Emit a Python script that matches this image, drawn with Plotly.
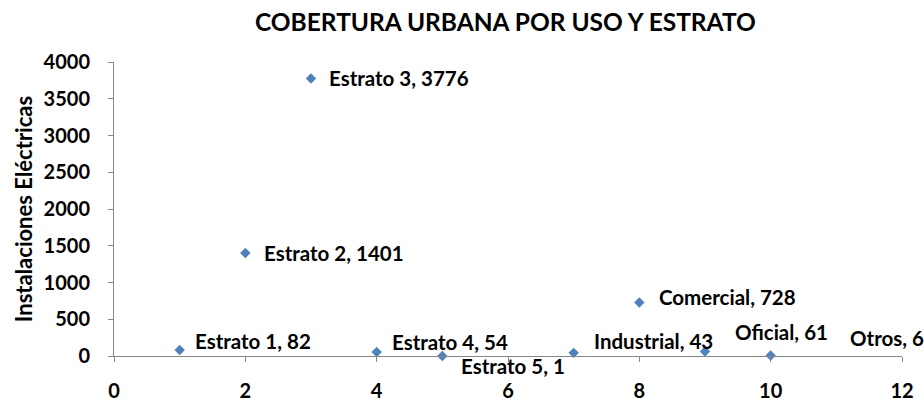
import plotly.graph_objects as go

categories = ["Estrato 1", "Estrato 2", "Estrato 3", "Estrato 4", "Estrato 5",
              "Industrial", "Comercial", "Oficial", "Otros"]
x_vals = [1, 2, 3, 4, 5, 7, 8, 9, 10]
values = [82, 1401, 3776, 54, 1, 43, 728, 61, 6]
x_ticks = [0, 2, 4, 6, 8, 10, 12]
y_ticks = [0, 500, 1000, 1500, 2000, 2500, 3000, 3500, 4000]

# label offsets in pixels (left edge of text, vertical shift up)
label_dx = [13, 17, 16, 13, 17, 18, 18, 28, 77]
label_dy = [9, 0, 0, 10, -10, 12, 5, 20, 18]

FONT = "Lato"
fig = go.Figure()
fig.add_trace(go.Scatter(
    x=x_vals, y=values, mode="markers",
    marker=dict(symbol="diamond", size=8, color="#4F81BD"),
    cliponaxis=False, showlegend=False,
))

for c, xv, v, dx, dy in zip(categories, x_vals, values, label_dx, label_dy):
    fig.add_annotation(
        x=xv, y=v, text=f"{c}, {v}", showarrow=False,
        xanchor="left", yanchor="middle", xshift=dx, yshift=dy,
        font=dict(family=FONT, size=20.5, color="#000000", weight="bold"),
    )

fig.update_layout(
    width=924, height=402,
    margin=dict(l=114, r=22, t=62, b=46, autoexpand=False),
    paper_bgcolor="white", plot_bgcolor="white",
    title=dict(text="COBERTURA URBANA POR USO Y ESTRATO", x=0.547, xanchor="center",
               y=0.945, yanchor="middle", automargin=False,
               font=dict(family=FONT, size=24.5, color="#000000", weight="bold")),
    xaxis=dict(range=[0, 12], tickvals=x_ticks, showgrid=False, zeroline=False,
               automargin=False,
               showline=True, linecolor="#868686", linewidth=1,
               ticks="outside", ticklen=5, tickcolor="#868686",
               ticklabelstandoff=12,
               tickfont=dict(family=FONT, size=20, color="#000000", weight="bold")),
    yaxis=dict(range=[0, 4000], tickvals=y_ticks, showgrid=False, zeroline=False,
               automargin=False,
               showline=True, linecolor="#868686", linewidth=1,
               ticks="outside", ticklen=5, tickcolor="#868686",
               ticklabelstandoff=14,
               title=dict(text="Instalaciones Eléctricas", standoff=4,
                          font=dict(family=FONT, size=22, color="#000000", weight="bold")),
               tickfont=dict(family=FONT, size=20, color="#000000", weight="bold")),
)

fig.write_html("out.html", config={"displayModeBar": False},
               post_script="document.body.style.margin='0';document.body.style.overflow='hidden';")
